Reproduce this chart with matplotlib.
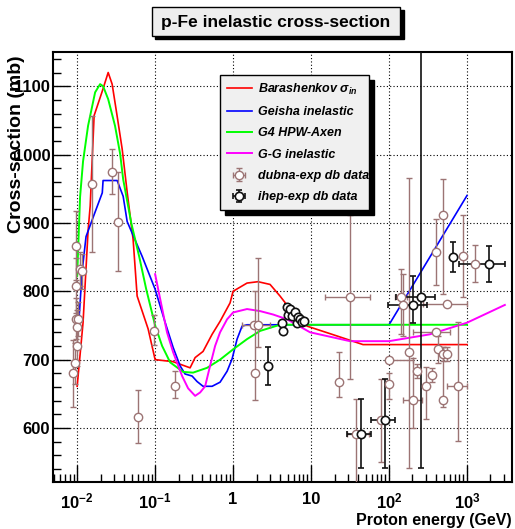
import numpy as np
import matplotlib.pyplot as plt
from matplotlib.patches import Rectangle
from matplotlib.ticker import FixedLocator, LogLocator, MultipleLocator, NullFormatter

plt.rcParams['font.family'] = ['Liberation Sans', 'DejaVu Sans']
plt.rcParams['font.weight'] = 'bold'
plt.rcParams['mathtext.fontset'] = 'custom'
plt.rcParams['mathtext.rm'] = 'Liberation Sans:bold'
plt.rcParams['mathtext.it'] = 'Liberation Sans:bold:italic'
plt.rcParams['mathtext.bf'] = 'Liberation Sans:bold'

# model curves: proton kinetic energy (GeV) vs inelastic cross-section (mb)
bar_E = [0.0100, 0.0119, 0.0138, 0.0147, 0.0165, 0.0209, 0.0250, 0.0281, 0.0326, 0.0378,
         0.0438, 0.0522, 0.0588, 0.0813, 0.1, 0.170, 0.281, 0.326, 0.412, 0.538, 0.681,
         0.915, 1.0, 1.51, 2.09, 2.98, 4.00, 5.38, 8.89, 17.5, 46.4, 1000]
bar_sig = [661, 754, 888, 925, 1057, 1092, 1120, 1103, 1056, 1008,
           945, 876, 793, 745, 700, 697, 688, 703, 712, 737, 756,
           783, 800, 812, 814, 810, 793, 774, 749, 738, 722, 722]

gei_E = [0.0103, 0.0116, 0.0130, 0.0170, 0.0210, 0.0215, 0.0326, 0.0389, 0.0438, 0.0682,
         0.1, 0.134, 0.170, 0.209, 0.242, 0.298, 0.345, 0.412, 0.538, 0.681, 0.838,
         0.971, 1.125, 1.304, 1.51, 100, 1000]
gei_sig = [740, 830, 880, 916, 944, 962, 962, 939, 902, 851,
           803, 755, 718, 691, 679, 676, 668, 661, 661, 667, 683,
           701, 730, 749, 751, 751, 940]

g4_E = [0.0100, 0.0109, 0.0119, 0.0138, 0.0170, 0.0197, 0.0215, 0.0250, 0.0306, 0.0356,
        0.0389, 0.0494, 0.0624, 0.0769, 0.1, 0.123, 0.156, 0.229, 0.307, 0.464, 0.681,
        1.0, 1.51, 2.22, 4.00, 1000]
g4_sig = [822, 938, 990, 1042, 1091, 1103, 1100, 1081, 1042, 1001,
          964, 900, 851, 803, 750, 720, 696, 682, 681, 688, 700,
          715, 730, 742, 751, 751]

gg_E = [0.1, 0.142, 0.170, 0.222, 0.265, 0.326, 0.378, 0.438, 0.507, 0.588, 0.681,
        0.838, 1.0, 1.51, 2.22, 3.26, 4.92, 9.71, 31.6, 100, 334, 1000, 3060]
gg_sig = [825, 740, 711, 676, 658, 647, 652, 661, 691, 720, 740,
          759, 769, 774, 771, 766, 759, 740, 727, 727, 737, 754, 780]

# dubna-exp data: energy, sigma, lower/upper sigma error, energy range
dub_E = [0.0089, 0.0094, 0.0100, 0.0097, 0.0103, 0.0100, 0.0097, 0.0097, 0.0109, 0.0116,
         0.0156, 0.0280, 0.0335, 0.0605, 0.097, 0.18, 1.86, 2.09, 1.91, 22.9,
         31.6, 37.8, 78.9, 100, 100, 142.6, 151, 180, 203, 229,
         298, 356, 400, 400, 425, 492, 492, 554, 492, 554,
         767, 889, 1267]
dub_sig = [680, 695, 720, 760, 760, 748, 808, 866, 833, 829,
           957, 974, 902, 616, 742, 662, 750, 750, 681, 667,
           791, 591, 611, 700, 664, 791, 780, 711, 641, 683,
           661, 678, 857, 740, 715, 911, 641, 781, 708, 708,
           661, 851, 840]
dub_lo = [50, 30, 30, 30, 25, 25, 40, 50, 25, 25,
          100, 32, 72, 38, 20, 18, 0, 31, 40, 22,
          120, 80, 61, 0, 22, 54, 45, 170, 41, 10,
          48, 10, 48, 0, 20, 115, 11, 0, 10, 10,
          80, 60, 27]
dub_hi = [49, 30, 30, 30, 25, 25, 40, 51, 25, 25,
          100, 34, 73, 40, 23, 21, 0, 99, 119, 44,
          120, 51, 60, 0, 17, 41, 45, 255, 62, 10,
          28, 10, 48, 0, 20, 53, 77, 0, 10, 10,
          94, 60, 27]
dub_Elo = [0.0089, 0.0094, 0.0100, 0.0097, 0.0103, 0.0100, 0.0097, 0.0097, 0.0109, 0.0116,
           0.0156, 0.0280, 0.0335, 0.0605, 0.097, 0.18, 1.30, 2.09, 1.91, 22.9,
           15.2, 29.0, 78.9, 100, 100, 119, 151, 180, 151, 229,
           298, 356, 400, 203, 425, 492, 492, 273, 492, 554,
           554, 889, 1267]
dub_Ehi = [0.0089, 0.0094, 0.0100, 0.0097, 0.0103, 0.0100, 0.0097, 0.0097, 0.0109, 0.0116,
           0.0156, 0.0280, 0.0335, 0.0605, 0.097, 0.18, 2.98, 2.09, 1.91, 22.9,
           57.0, 55.4, 78.9, 203, 100, 170, 151, 180, 265, 229,
           298, 356, 400, 606, 425, 492, 492, 1000, 492, 554,
           1000, 889, 1267]

# ihep-exp data
ihep_E = [2.81, 4.25, 4.37, 4.92, 5.07, 5.38, 5.70, 6.23, 6.61, 6.81, 7.23, 7.67, 8.13,
          43.8, 89.1, 203, 257, 662, 1914]
ihep_sig = [691, 753, 742, 777, 766, 774, 764, 769, 754, 763, 759, 755, 757,
            591, 611, 780, 791, 850, 840]
ihep_lo = [28, 4, 4, 4, 4, 4, 4, 4, 4, 4, 4, 4, 4,
           50, 69, 27, 249, 22, 27]
ihep_hi = [28, 4, 4, 4, 4, 4, 4, 4, 4, 4, 4, 4, 4,
           51, 60, 42, 400, 22, 26]
ihep_Elo = [2.81, 4.25, 4.37, 4.92, 5.07, 5.38, 5.70, 6.23, 6.61, 6.81, 7.23, 7.67, 8.13,
            29.0, 58.9, 97.3, 123, 620, 789]
ihep_Ehi = [2.81, 4.25, 4.37, 4.92, 5.07, 5.38, 5.70, 6.23, 6.61, 6.81, 7.23, 7.67, 8.13,
            58.9, 119, 307, 389, 720, 3070]

dub_col = '#9c7474'

fig = plt.figure(figsize=(5.15, 5.29), dpi=100)
ax = fig.add_axes([53/515, 47/529, 459/515, 430/529])

ax.plot(bar_E, bar_sig, color='#ff0000', lw=1.2, label=r'Barashenkov $\sigma_{in}$')
ax.plot(gei_E, gei_sig, color='#0000ff', lw=1.2, label='Geisha inelastic')
ax.plot(g4_E, g4_sig, color='#00ff00', lw=1.4, label='G4 HPW-Axen')
ax.plot(gg_E, gg_sig, color='#ff00ff', lw=1.4, label='G-G inelastic')

def points(E, sig, lo, hi, Elo, Ehi, col, lw, label):
    E = np.array(E)
    xerr = [E - np.array(Elo), np.array(Ehi) - E]
    return ax.errorbar(E, sig, yerr=[lo, hi], xerr=xerr, fmt='o', ms=6, mfc='white',
                       mec=col, mew=lw, ecolor=col, elinewidth=lw, capsize=2.5,
                       capthick=lw, color=col, label=label, zorder=5)

points(dub_E, dub_sig, dub_lo, dub_hi, dub_Elo, dub_Ehi, dub_col, 1.0, 'dubna-exp db data')
points(ihep_E, ihep_sig, ihep_lo, ihep_hi, ihep_Elo, ihep_Ehi, '#111111', 1.2, 'ihep-exp db data')

ax.set_xscale('log')
ax.set_xlim(0.0049, 3780)
ax.set_ylim(521, 1150)
ax.xaxis.set_major_locator(FixedLocator([1e-2, 1e-1, 1, 10, 100, 1000]))
ax.set_xticklabels([r'$10^{-2}$', r'$10^{-1}$', '1', '10', r'$10^{2}$', r'$10^{3}$'])
ax.xaxis.set_minor_locator(LogLocator(base=10, subs=np.arange(2, 10), numticks=20))
ax.xaxis.set_minor_formatter(NullFormatter())
ax.yaxis.set_major_locator(FixedLocator([600, 700, 800, 900, 1000, 1100]))
ax.yaxis.set_minor_locator(MultipleLocator(20))

ax.tick_params(which='both', direction='in', top=False, right=False, width=1, labelsize=12)
ax.tick_params(which='major', length=12)
ax.tick_params(which='minor', length=6)
ax.tick_params(axis='x', pad=7)
ax.tick_params(axis='y', pad=2)
ax.grid(True, which='major', color='k', ls=(0, (1, 2)), lw=0.8)
for s in ax.spines.values():
    s.set_linewidth(1.5)

leg = ax.legend(loc='upper left', bbox_to_anchor=(0.3508, 0.9605, 0.3507, 0.0),
                mode='expand', labelspacing=0.75, borderpad=0.5,
                handlelength=2.0, handletextpad=0.5, fancybox=False,
                facecolor='#f0f0f0', edgecolor='black', framealpha=1,
                shadow={'ox': 3.5, 'oy': -3.5, 'color': 'black', 'alpha': 1},
                prop={'style': 'italic', 'weight': 'bold', 'size': 9})
leg.get_frame().set_linewidth(1.0)

# title box with drop shadow
fig.patches.append(Rectangle((155/515, 1 - 39/529), 249/515, 29/529, transform=fig.transFigure,
                             facecolor='black', edgecolor='black', zorder=1))
fig.patches.append(Rectangle((152/515, 1 - 36/529), 248/515, 29/529, transform=fig.transFigure,
                             facecolor='#eeeeee', edgecolor='black', lw=1, zorder=2))
fig.text(276/515, 1 - 22/529, 'p-Fe inelastic cross-section', ha='center', va='center',
         fontsize=12.5, fontweight='bold', zorder=3)

fig.text(512/515, 4/529, 'Proton energy (GeV)', ha='right', va='baseline', fontsize=11.5)
fig.text(17/515, 1 - 55/529, 'Cross-section (mb)', ha='center', va='top', rotation=90,
         fontsize=14)

fig.savefig('out.png', dpi=100)
